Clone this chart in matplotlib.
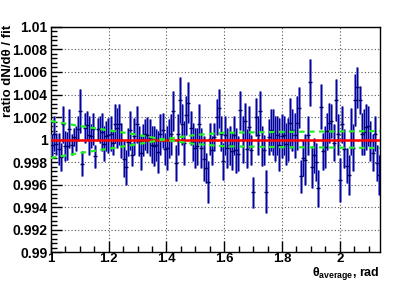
import numpy as np
import matplotlib
matplotlib.use('Agg')
import matplotlib.pyplot as plt
from matplotlib.ticker import MultipleLocator, FuncFormatter

plt.rcParams['font.family'] = ['Liberation Sans', 'DejaVu Sans']
plt.rcParams['font.weight'] = 'bold'
plt.rcParams['mathtext.fontset'] = 'custom'
plt.rcParams['mathtext.rm'] = 'Liberation Sans:bold'
plt.rcParams['mathtext.it'] = 'Liberation Sans:bold'
plt.rcParams['mathtext.bf'] = 'Liberation Sans:bold'

# histogram range (rad)
x_lo, x_hi = 1.0, 2.14

# ratio deviations from 1 (units of 1e-3) and errors, left to right
dev = [-0.52, 0.52, -0.37, -0.82, -1.57, 1.34, -0.60, -0.55, 0.97, -0.45,
       0.22, 0.07, 0.97, 2.54, -2.16, 1.04, 1.27, 0.37, 0.30, 0.97,
       -1.49, 0.97, 0.90,
       0.67, -0.37, 0.30, 0.37, 0.52, -0.30, 1.42, 1.04, 1.34, -0.07,
       -1.72, -2.46, -0.22, 0.82, -1.34, 0.30, 1.34, -0.15, -1.19, -0.07,
       0.45, 0.37, 0.15, -0.45,
       -0.60, -0.52, -1.12, 0.45, 0.82, -0.82, -0.75, 0.07, 0.45, 2.54,
       -2.09, 0.45, 3.51, 1.34, -0.30, 2.16, 3.28, 1.04, -0.22, -0.75,
       -0.60, 1.42, -0.75, -1.72,
       -2.54, -3.81, 0.07, -0.97, 0.22, 2.01, 2.76, 0.52, -1.94, 0.37,
       -0.75, -0.52, -1.04, 0.37, -0.97, -1.27, 2.61, 0.00, 1.64, -0.82,
       1.12, -0.90, -4.70, 2.01, 0.37, 2.54, -0.60,
       -0.90, -4.63, 0.22, 0.82, 0.67, 0.07, 0.37, -0.45, 0.30, 0.37,
       -0.37, 0.00, 1.49, 0.82, 0.37, 1.49, 2.84, -3.28, -1.64, -1.79,
       0.37, 5.07, -2.46, -1.42, -2.01, -4.33, 2.91, -1.04,
       -0.67, 0.75, 1.49, 1.64, -0.30, 3.51, 0.45, -3.58, 1.34, -0.82,
       -2.31, -3.13, 0.75, -0.75, 3.51, 4.63, 3.51, 0.52, 0.67, 1.12,
       1.19, -0.15, -1.19, 0.52, -2.09, -3.13]
err = [0.97, 1.57, 0.97, 1.42, 1.27, 1.64, 1.34, 1.24, 1.72, 0.90,
       0.82, 1.12, 1.12, 1.94, 1.12, 1.34, 1.27, 1.72, 1.04, 1.42,
       1.04, 0.97, 1.19,
       1.72, 1.57, 1.34, 1.57, 1.57, 1.04, 1.72, 1.79, 1.79, 1.57,
       1.57, 1.57, 1.27, 1.72, 1.04, 1.64, 1.64, 1.34, 1.49, 1.42,
       1.34, 1.60, 1.64, 1.64,
       1.79, 1.42, 1.87, 1.79, 1.57, 1.42, 1.94, 1.72, 1.79, 1.79,
       1.64, 1.79, 2.01, 1.79, 1.94, 1.72, 1.79, 1.49, 1.72, 1.79,
       1.64, 1.72, 1.79, 2.01,
       1.34, 1.87, 1.42, 1.27, 1.27, 1.57, 1.72, 1.57, 1.64, 1.72,
       1.79, 1.72, 1.64, 1.72, 2.01, 1.57, 1.72, 2.09, 1.64, 1.72,
       1.87, 1.34, 1.40, 1.72, 1.72, 1.79, 1.79,
       1.34, 1.94, 1.57, 1.87, 2.01, 2.01, 1.72, 2.39, 1.94, 1.72,
       1.87, 1.94, 2.24, 1.87, 2.01, 2.39, 1.79, 1.50, 1.64, 2.24,
       1.72, 2.09, 1.87, 1.57, 1.72, 1.64, 2.01, 1.64,
       1.87, 1.64, 1.79, 1.49, 1.64, 1.87, 1.79, 1.94, 1.64, 1.72,
       1.57, 1.79, 2.09, 2.09, 2.31, 1.79, 1.27, 1.87, 2.01, 2.01,
       1.79, 1.79, 1.64, 1.57, 1.64, 1.79]

# two green dashed curves (deviation, units of 1e-3)
band_x = [1.0, 1.1, 1.2, 1.3, 1.4, 1.5, 1.6, 1.8, 2.0, 2.14]
band_a = [1.64, 1.2, 0.82, 0.42, -0.05, -0.4, -0.6, -0.68, -0.72, -0.75]
band_b = [-1.64, -1.2, -0.82, -0.42, 0.05, 0.4, 0.6, 0.68, 0.72, 0.75]

n = len(dev)
edges = np.linspace(x_lo, x_hi, n + 1)
xc = 0.5 * (edges[:-1] + edges[1:])
y = 1 + np.array(dev) * 1e-3
e = np.array(err) * 1e-3

fig = plt.figure(figsize=(4.11, 2.81), dpi=100)
ax = fig.add_axes([0.124, 0.103, 0.801, 0.801])

ax.vlines(xc, y - e, y + e, color='#6b6bc4', lw=2.0, zorder=3)
ax.vlines(xc, y - e, y + e, color='#0000a0', lw=0.7, zorder=4)
ax.plot(xc, y, ls='none', marker='_', ms=2.5, mew=1, color='#00006b', zorder=5)

ax.plot([x_lo, x_hi], [1, 1], color='#ff0000', lw=1.8, zorder=6)
ax.plot(band_x, 1 + np.array(band_a) * 1e-3, color='#22ee22', lw=1.6,
        ls=(0, (2.5, 2)), zorder=7)
ax.plot(band_x, 1 + np.array(band_b) * 1e-3, color='#22ee22', lw=1.6,
        ls=(0, (2.5, 2)), zorder=7)

ax.set_xlim(x_lo, x_hi)
ax.set_ylim(0.99, 1.01)
ax.xaxis.set_major_locator(MultipleLocator(0.2))
ax.xaxis.set_minor_locator(MultipleLocator(0.05))
ax.yaxis.set_major_locator(MultipleLocator(0.002))
ax.yaxis.set_minor_locator(MultipleLocator(0.0004))
fmt = FuncFormatter(lambda v, p: '%g' % round(v, 4))
ax.xaxis.set_major_formatter(fmt)
ax.yaxis.set_major_formatter(fmt)
ax.tick_params(which='both', direction='in', top=False, right=False,
               labelsize=10, width=1, pad=2.5)
ax.tick_params(axis='x', pad=1, labelsize=9.5)
ax.tick_params(which='major', length=8)
ax.tick_params(which='minor', length=4)
ax.grid(True, which='major', ls=(0, (1, 2)), color='#555555', lw=0.8)
for s in ax.spines.values():
    s.set_linewidth(1)

ax.set_ylabel('ratio dN/d\u03b8 / fit', fontsize=9.5, fontweight='bold',
              family=['Liberation Sans', 'DejaVu Sans'])
ax.yaxis.set_label_coords(-0.131, 1.01)
ax.yaxis.label.set_ha('right')
ax.yaxis.label.set_va('center')
ax.set_xlabel(r'$\theta_{average}$, rad', fontsize=9, fontweight='bold')
ax.xaxis.set_label_coords(1.0, -0.096)
ax.xaxis.label.set_ha('right')
ax.xaxis.label.set_va('center')

fig.savefig('out.png', dpi=100)
